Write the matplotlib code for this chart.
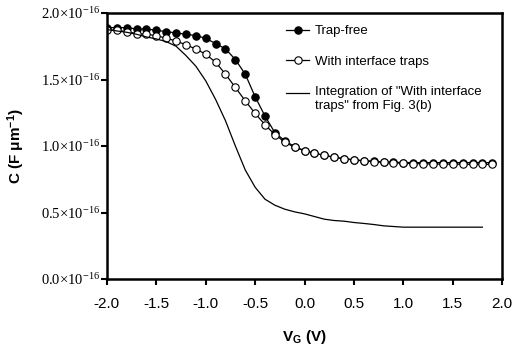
import numpy as np
import matplotlib
matplotlib.use('Agg')
import matplotlib.pyplot as plt
from matplotlib.ticker import FuncFormatter

# gate voltage for the two simulated curves (V)
vg_sim = [-2.0, -1.9, -1.8, -1.7, -1.6, -1.5, -1.4, -1.3, -1.2, -1.1,
          -1.0, -0.9, -0.8, -0.7, -0.6, -0.5, -0.4, -0.3, -0.2, -0.1,
          0.0, 0.1, 0.2, 0.3, 0.4, 0.5, 0.6, 0.7, 0.8, 0.9,
          1.0, 1.1, 1.2, 1.3, 1.4, 1.5, 1.6, 1.7, 1.8, 1.9]

# capacitance in units of 1e-16 F/um
c_trapfree = [1.89, 1.89, 1.89, 1.88, 1.88, 1.87, 1.86, 1.85, 1.84, 1.83,
              1.81, 1.77, 1.73, 1.65, 1.54, 1.37, 1.225, 1.10, 1.04, 0.995,
              0.965, 0.945, 0.93, 0.915, 0.905, 0.895, 0.89, 0.885, 0.88, 0.878,
              0.876, 0.875, 0.875, 0.875, 0.875, 0.875, 0.875, 0.875, 0.875, 0.875]

c_traps = [1.875, 1.87, 1.86, 1.845, 1.84, 1.83, 1.81, 1.79, 1.76, 1.73,
           1.69, 1.63, 1.54, 1.44, 1.34, 1.245, 1.16, 1.085, 1.03, 0.99,
           0.965, 0.945, 0.93, 0.915, 0.905, 0.895, 0.888, 0.882, 0.877, 0.873,
           0.87, 0.868, 0.866, 0.865, 0.864, 0.863, 0.863, 0.862, 0.862, 0.862]

# integrated curve from Fig. 3(b)
vg_int = [-2.0, -1.9, -1.8, -1.7, -1.6, -1.5, -1.4, -1.3, -1.2, -1.1,
          -1.0, -0.9, -0.8, -0.7, -0.6, -0.5, -0.4, -0.3, -0.2, -0.1,
          0.0, 0.1, 0.2, 0.3, 0.4, 0.5, 0.6, 0.7, 0.8, 0.9,
          1.0, 1.1, 1.2, 1.3, 1.4, 1.5, 1.6, 1.7, 1.8]
c_int = [1.875, 1.865, 1.855, 1.84, 1.82, 1.805, 1.785, 1.75, 1.68, 1.60,
         1.49, 1.35, 1.19, 1.00, 0.82, 0.69, 0.60, 0.555, 0.525, 0.505,
         0.49, 0.47, 0.45, 0.44, 0.435, 0.425, 0.418, 0.41, 0.40, 0.395,
         0.39, 0.39, 0.39, 0.39, 0.39, 0.39, 0.39, 0.39, 0.39]

xticks = [-2.0, -1.5, -1.0, -0.5, 0.0, 0.5, 1.0, 1.5, 2.0]
yticks = [0.0, 0.5, 1.0, 1.5, 2.0]

fig = plt.figure(figsize=(5.14, 3.51), dpi=100)
ax = fig.add_axes([0.208, 0.205, 0.769, 0.758])

ax.plot(vg_sim, c_trapfree, color='black', lw=0.9, marker='o', ms=5.3,
        mfc='black', mec='black', mew=0.8, label='Trap-free')
ax.plot(vg_sim, c_traps, color='black', lw=0.9, marker='o', ms=5.3,
        mfc='white', mec='black', mew=0.8, label='With interface traps')
ax.plot(vg_int, c_int, color='black', lw=0.9,
        label='Integration of "With interface\ntraps" from Fig. 3(b)')

ax.set_xlim(-2.0, 2.0)
ax.set_ylim(0.0, 2.0)
ax.set_xticks(xticks)
ax.set_yticks(yticks)
ax.xaxis.set_major_formatter(FuncFormatter(lambda v, p: '%.1f' % v))
ax.yaxis.set_major_formatter(
    FuncFormatter(lambda v, p: r'$\mathregular{%.1f{\times}10^{-16}}$' % v))

for lab in ax.get_xticklabels():
    lab.set_fontfamily('Liberation Sans')
    lab.set_fontsize(11)
for lab in ax.get_yticklabels():
    lab.set_fontfamily('Liberation Serif')
    lab.set_fontsize(10.5)

ax.tick_params(direction='out', length=4, width=1.5, top=False, right=False)
ax.tick_params(axis='x', pad=9)
ax.tick_params(axis='y', pad=1)
for s in ax.spines.values():
    s.set_linewidth(1.8)

ax.set_xlabel(r'V$_\mathregular{G}$ (V)', fontfamily='Liberation Sans',
              fontweight='bold', fontsize=11, labelpad=12)
ax.set_ylabel(r'C (F $\mathregular{\mu m^{-1}}$)', fontfamily='Liberation Sans',
              fontweight='bold', fontsize=11, labelpad=10)

leg = ax.legend(loc='upper left', bbox_to_anchor=(0.44, 0.975), frameon=False,
                borderaxespad=0,
                prop={'family': 'Liberation Sans', 'size': 9.5},
                handlelength=1.75, handletextpad=0.45, labelspacing=1.38)
# put the plain-line key level with the first line of its two-line label
ln = leg.get_lines()[2]
ln.set_ydata(np.asarray(ln.get_ydata()) + 3.8)

fig.savefig('out.png', dpi=100)
